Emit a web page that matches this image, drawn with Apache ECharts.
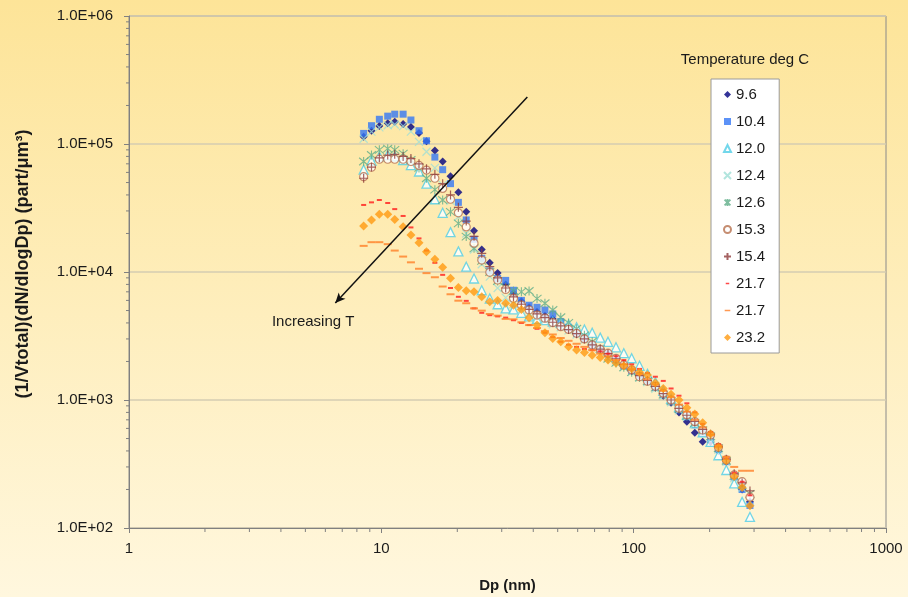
<!DOCTYPE html>
<html>
<head>
<meta charset="utf-8">
<script src="https://cdn.jsdelivr.net/npm/echarts@6/dist/echarts.min.js"></script>
<style>
html,body{margin:0;padding:0;background:#fff;}
#chart{width:908px;height:597px;}
</style>
</head>
<body>
<div id="chart"></div>
<script>
// ---- Data ----
const dp = [8.51, 9.14, 9.82, 10.6, 11.3, 12.2, 13.1, 14.1, 15.1, 16.3,
  17.5, 18.8, 20.2, 21.7, 23.3, 25.0, 26.9, 28.9, 31.1, 33.4,
  35.9, 38.5, 41.4, 44.5, 47.8, 51.4, 55.2, 59.4, 63.8, 68.5,
  73.7, 79.1, 85.1, 91.4, 98.2, 105.5, 113.4, 121.9, 131.0, 140.7,
  151.2, 162.5, 174.7, 187.7, 201.7, 216.7, 232.9, 250.3, 269.0, 289.0];

const seriesNames = ['9.6', '10.4', '12.0', '12.4', '12.6', '15.3', '15.4', '21.7a', '21.7b', '23.2'];

const t96 = [1.14e5, 1.27e5, 1.38e5, 1.45e5, 1.49e5, 1.43e5, 1.36e5, 1.22e5, 1.05e5, 8.9e4,
  7.3e4, 5.6e4, 4.2e4, 2.95e4, 2.1e4, 1.5e4, 1.18e4, 9.8e3, 8.0e3, 6.8e3,
  5.9e3, 5.3e3, 4.9e3, 4.55e3, 4.3e3, 3.9e3, 3.6e3, 3.3e3, 3.0e3, 2.7e3,
  2.5e3, 2.28e3, 2.05e3, 1.85e3, 1.68e3, 1.55e3, 1.4e3, 1.25e3, 1.08e3, 950,
  800, 677, 556, 472, 470, 400, 330, 250, 200, 160];

const t104 = [1.21e5, 1.39e5, 1.56e5, 1.65e5, 1.71e5, 1.71e5, 1.54e5, 1.27e5, 1.06e5, 7.9e4,
  6.3e4, 4.9e4, 3.5e4, 2.55e4, 1.8e4, 1.28e4, 1.02e4, 8.9e3, 8.6e3, 7.2e3,
  6.0e3, 5.5e3, 5.3e3, 5.05e3, 4.7e3, 4.1e3, 3.7e3, 3.3e3, 3.0e3, 2.7e3,
  2.5e3, 2.3e3, 2.05e3, 1.85e3, 1.7e3, 1.55e3, 1.4e3, 1.25e3, 1.1e3, 970,
  840, 740, 640, 560, 500, 410, 330, 250, 200, 150];

const t120 = [6.3e4, 7.4e4, 8.0e4, 8.2e4, 8.0e4, 7.5e4, 6.85e4, 6.1e4, 4.9e4, 3.7e4,
  2.9e4, 2.05e4, 1.45e4, 1.1e4, 8.9e3, 7.2e3, 6.2e3, 5.6e3, 5.2e3, 5.1e3,
  4.8e3, 4.5e3, 4.3e3, 4.2e3, 4.1e3, 4.0e3, 3.9e3, 3.7e3, 3.55e3, 3.35e3,
  3.07e3, 2.85e3, 2.58e3, 2.32e3, 2.12e3, 1.85e3, 1.6e3, 1.38e3, 1.18e3, 1.02e3,
  880, 770, 660, 560, 470, 370, 284, 223, 160, 122];

const t124 = [1.1e5, 1.25e5, 1.35e5, 1.4e5, 1.42e5, 1.38e5, 1.25e5, 1.04e5, 8.7e4, 6.5e4,
  4.8e4, 3.6e4, 2.7e4, 2.0e4, 1.5e4, 1.15e4, 9.2e3, 7.5e3, 6.3e3, 5.6e3,
  5.0e3, 4.7e3, 4.4e3, 4.2e3, 3.9e3, 3.7e3, 3.5e3, 3.25e3, 2.95e3, 2.65e3,
  2.45e3, 2.2e3, 2.0e3, 1.8e3, 1.65e3, 1.5e3, 1.38e3, 1.22e3, 1.08e3, 960,
  830, 740, 650, 570, 500, 410, 330, 245, 205, 160];

const t126 = [7.3e4, 8.2e4, 9.0e4, 9.2e4, 9.0e4, 8.4e4, 7.5e4, 6.5e4, 5.4e4, 4.4e4,
  3.65e4, 2.95e4, 2.4e4, 1.89e4, 1.53e4, 1.22e4, 1.0e4, 8.5e3, 7.6e3, 7.1e3,
  7.0e3, 7.1e3, 6.2e3, 5.7e3, 5.05e3, 4.43e3, 4.0e3, 3.6e3, 3.2e3, 2.85e3,
  2.5e3, 2.1e3, 1.95e3, 1.8e3, 1.65e3, 1.5e3, 1.4e3, 1.25e3, 1.1e3, 980,
  850, 750, 660, 580, 520, 420, 335, 255, 215, 185];

const t153 = [5.56e4, 6.58e4, 7.6e4, 7.6e4, 7.6e4, 7.6e4, 7.3e4, 6.8e4, 6.26e4, 5.4e4,
  4.5e4, 3.7e4, 2.9e4, 2.25e4, 1.68e4, 1.24e4, 9.95e3, 8.66e3, 7.3e3, 6.23e3,
  5.52e3, 5.05e3, 4.61e3, 4.35e3, 4.02e3, 3.74e3, 3.56e3, 3.32e3, 3.0e3, 2.69e3,
  2.49e3, 2.32e3, 2.12e3, 1.88e3, 1.72e3, 1.52e3, 1.4e3, 1.28e3, 1.13e3, 1.0e3,
  862, 764, 677, 583, 533, 427, 340, 260, 230, 174];

const t154 = [5.4e4, 6.6e4, 7.8e4, 8.2e4, 8.3e4, 8.0e4, 7.7e4, 7.0e4, 6.4e4, 5.8e4,
  4.9e4, 4.0e4, 3.2e4, 2.5e4, 1.9e4, 1.4e4, 1.1e4, 9.0e3, 7.5e3, 6.4e3,
  5.6e3, 5.1e3, 4.7e3, 4.4e3, 4.05e3, 3.8e3, 3.55e3, 3.3e3, 3.0e3, 2.7e3,
  2.5e3, 2.3e3, 2.1e3, 1.9e3, 1.72e3, 1.55e3, 1.42e3, 1.28e3, 1.12e3, 1.0e3,
  860, 760, 680, 590, 540, 430, 345, 265, 225, 195];

const t217a = [3.34e4, 3.5e4, 3.65e4, 3.46e4, 3.1e4, 2.74e4, 2.23e4, 1.83e4, 1.47e4, 1.18e4,
  9.5e3, 7.5e3, 6.4e3, 5.95e3, 5.2e3, 4.8e3, 4.6e3, 4.5e3, 4.4e3, 4.2e3,
  4.0e3, 3.85e3, 3.6e3, 3.35e3, 3.1e3, 2.85e3, 2.7e3, 2.6e3, 2.5e3, 2.45e3,
  2.4e3, 2.3e3, 2.2e3, 2.05e3, 1.9e3, 1.75e3, 1.62e3, 1.52e3, 1.41e3, 1.23e3,
  1.08e3, 942, 800, 650, 560, 450, 350, 270, 230, 180];

const t217b = [1.6e4, 1.71e4, 1.71e4, 1.65e4, 1.47e4, 1.32e4, 1.19e4, 1.06e4, 9.8e3, 9.1e3,
  7.7e3, 6.7e3, 5.97e3, 5.7e3, 5.2e3, 4.99e3, 4.7e3, 4.56e3, 4.3e3, 4.27e3,
  4.05e3, 3.85e3, 3.65e3, 3.45e3, 3.25e3, 3.05e3, 2.9e3, 2.75e3, 2.6e3, 2.45e3,
  2.3e3, 2.2e3, 2.05e3, 1.9e3, 1.75e3, 1.6e3, 1.45e3, 1.32e3, 1.18e3, 1.05e3,
  920, 810, 700, 610, 530, 440, 360, 300, 280, 280];

const t232 = [2.29e4, 2.55e4, 2.82e4, 2.82e4, 2.57e4, 2.26e4, 1.95e4, 1.69e4, 1.44e4, 1.26e4,
  1.09e4, 8.93e3, 7.58e3, 7.15e3, 7.0e3, 6.4e3, 5.86e3, 6.0e3, 5.7e3, 5.5e3,
  5.1e3, 4.4e3, 3.85e3, 3.36e3, 3.03e3, 2.85e3, 2.61e3, 2.46e3, 2.35e3, 2.24e3,
  2.15e3, 2.05e3, 1.95e3, 1.85e3, 1.75e3, 1.65e3, 1.57e3, 1.36e3, 1.23e3, 1.11e3,
  1.0e3, 871, 777, 665, 542, 427, 336, 252, 207, 149];

const xTickLabels = ['1', '10', '100', '1000'];
const yTickLabels = ['1.0E+02', '1.0E+03', '1.0E+04', '1.0E+05', '1.0E+06'];

// annotation (arrow and its label), in data units
const arrowStart = [37.9, 2.33e5];
const arrowEnd = [6.57, 5.73e3];
const arrowLabelPos = [5.37, 4.06e3];

// ---- Styles ----
const PATH_X = 'path://M0,0L10,10M10,0L0,10';
const PATH_AST = 'path://M0,0L10,10M10,0L0,10M5,-1L5,11';
const PATH_PLUS = 'path://M5,0L5,10M0,5L10,5';
const ICON_DASH_S = 'path://M0,0L0.01,0M10,10L10.01,10M2.5,4h5v2.2h-5z';
const ICON_DASH_L = 'path://M0,0L0.01,0M10,10L10.01,10M1,4h8v2.2h-8z';

const styles = [
  {symbol: 'diamond', symbolSize: 8, itemStyle: {color: '#000080'}},
  {symbol: 'rect', symbolSize: 7, itemStyle: {color: '#3377f5'}},
  {symbol: 'triangle', symbolSize: 9, itemStyle: {color: '#ffffff', borderColor: '#4fcde6', borderWidth: 1.3}},
  {symbol: PATH_X, symbolSize: 8, itemStyle: {color: 'rgba(0,0,0,0)', borderColor: '#9fded6', borderWidth: 1.2}},
  {symbol: PATH_AST, symbolSize: 9, itemStyle: {color: 'rgba(0,0,0,0)', borderColor: '#5fae88', borderWidth: 1.1}},
  {symbol: 'circle', symbolSize: 8, itemStyle: {color: '#ffffff', borderColor: '#b7714e', borderWidth: 1.2}},
  {symbol: PATH_PLUS, symbolSize: 9, itemStyle: {color: 'rgba(0,0,0,0)', borderColor: '#8e3b3b', borderWidth: 1.2}},
  {symbol: 'rect', symbolSize: [5, 2], itemStyle: {color: '#ff1a1a'}},
  {symbol: 'rect', symbolSize: [8, 2], itemStyle: {color: '#ff7f27'}},
  {symbol: 'diamond', symbolSize: 9, itemStyle: {color: '#ff9a10'}}
];
const values = [t96, t104, t120, t124, t126, t153, t154, t217a, t217b, t232];

const FONT = '"Liberation Sans", Arial, sans-serif';

const series = seriesNames.map((name, k) => Object.assign({
  name: name,
  type: 'scatter',
  data: dp.map((d, i) => [d, values[k][i]]),
  emphasis: {disabled: true},
  animation: false
}, styles[k]));

series[0].markLine = {
  silent: true,
  symbol: ['none', 'arrow'],
  symbolSize: [7, 10],
  label: {show: false},
  lineStyle: {color: '#111111', width: 1.5, type: 'solid'},
  data: [[{coord: arrowStart}, {coord: arrowEnd}]],
  animation: false
};
series[0].markPoint = {
  silent: true,
  symbol: 'circle',
  symbolSize: 1,
  itemStyle: {color: 'rgba(0,0,0,0)'},
  label: {show: true, position: 'inside', formatter: 'Increasing T', color: '#1a1a1a', fontSize: 15, fontFamily: FONT},
  data: [{coord: arrowLabelPos}],
  animation: false
};

const legendData = seriesNames.map(n => {
  if (n === '21.7a') return {name: n, icon: ICON_DASH_S};
  if (n === '21.7b') return {name: n, icon: ICON_DASH_L};
  return {name: n};
});

const chart = echarts.init(document.getElementById('chart'), null, {renderer: 'canvas'});

const option = {
  animation: false,
  backgroundColor: {
    type: 'linear', x: 0, y: 0, x2: 0, y2: 1,
    colorStops: [{offset: 0, color: '#fde498'}, {offset: 1, color: '#fff7de'}]
  },
  textStyle: {fontFamily: FONT},
  title: {
    text: 'Temperature deg C',
    left: 740, top: 47, textAlign: 'center',
    textStyle: {fontSize: 15, fontWeight: 'normal', color: '#1a1a1a', fontFamily: FONT}
  },
  legend: {
    orient: 'vertical',
    left: 711, top: 79,
    padding: [8, 14, 8, 12],
    itemGap: 12,
    itemWidth: 7, itemHeight: 7,
    symbolKeepAspect: true,
    backgroundColor: '#ffffff',
    borderColor: '#9a9a9a', borderWidth: 1,
    textStyle: {fontSize: 15, color: '#1a1a1a', fontFamily: FONT},
    formatter: n => n.replace(/[ab]$/, ''),
    selectedMode: false,
    data: legendData
  },
  grid: {
    left: 129, right: 22, top: 16, bottom: 69,
    outerBoundsMode: 'none', containLabel: false,
    show: true, borderColor: '#8a8a8a', borderWidth: 1, backgroundColor: 'rgba(0,0,0,0)'
  },
  xAxis: {
    type: 'log', logBase: 10, min: 1, max: 1000,
    name: 'Dp (nm)', nameLocation: 'middle', nameGap: 50,
    nameTextStyle: {fontSize: 15, fontWeight: 'bold', color: '#1a1a1a', fontFamily: FONT},
    axisLine: {lineStyle: {color: '#808080', width: 1}},
    axisTick: {show: true, inside: false, length: 5, lineStyle: {color: '#808080'}},
    axisLabel: {margin: 13, fontSize: 15, color: '#1a1a1a', fontFamily: FONT,
      formatter: v => xTickLabels[Math.round(Math.log10(v))]},
    splitLine: {show: false}
  },
  yAxis: {
    type: 'log', logBase: 10, min: 100, max: 1e6,
    name: '(1/Vtotal)(dN/dlogDp) (part/μm³)', nameLocation: 'middle', nameGap: 97,
    nameTextStyle: {fontSize: 18, fontWeight: 'bold', color: '#1a1a1a', fontFamily: FONT, padding: [0, 0, 0, 16]},
    axisLine: {lineStyle: {color: '#808080', width: 1}},
    axisTick: {show: true, inside: false, length: 5, lineStyle: {color: '#808080'}},
    axisLabel: {margin: 16, fontSize: 15, color: '#1a1a1a', fontFamily: FONT,
      formatter: v => yTickLabels[Math.round(Math.log10(v)) - 2]},
    splitLine: {show: true, lineStyle: {color: '#d5ccb2', width: 1.5}}
  },
  series: series
};
chart.setOption(option);

// minor ticks at 2..9 of every decade, positioned through the axes' own scales
const g = [];
const x0 = chart.convertToPixel({xAxisIndex: 0}, 1);
const yBottom = chart.convertToPixel({yAxisIndex: 0}, 100);
for (let d = 0; d < 3; d++) {
  for (let k = 2; k <= 9; k++) {
    const px = chart.convertToPixel({xAxisIndex: 0}, k * Math.pow(10, d));
    g.push({type: 'line', silent: true, shape: {x1: px, y1: yBottom, x2: px, y2: yBottom + 4},
      style: {stroke: '#808080', lineWidth: 1}});
  }
}
for (let d = 2; d < 6; d++) {
  for (let k = 2; k <= 9; k++) {
    const py = chart.convertToPixel({yAxisIndex: 0}, k * Math.pow(10, d));
    g.push({type: 'line', silent: true, shape: {x1: x0 - 3, y1: py, x2: x0, y2: py},
      style: {stroke: '#808080', lineWidth: 1}});
  }
}
chart.setOption({graphic: g});
</script>
</body>
</html>
